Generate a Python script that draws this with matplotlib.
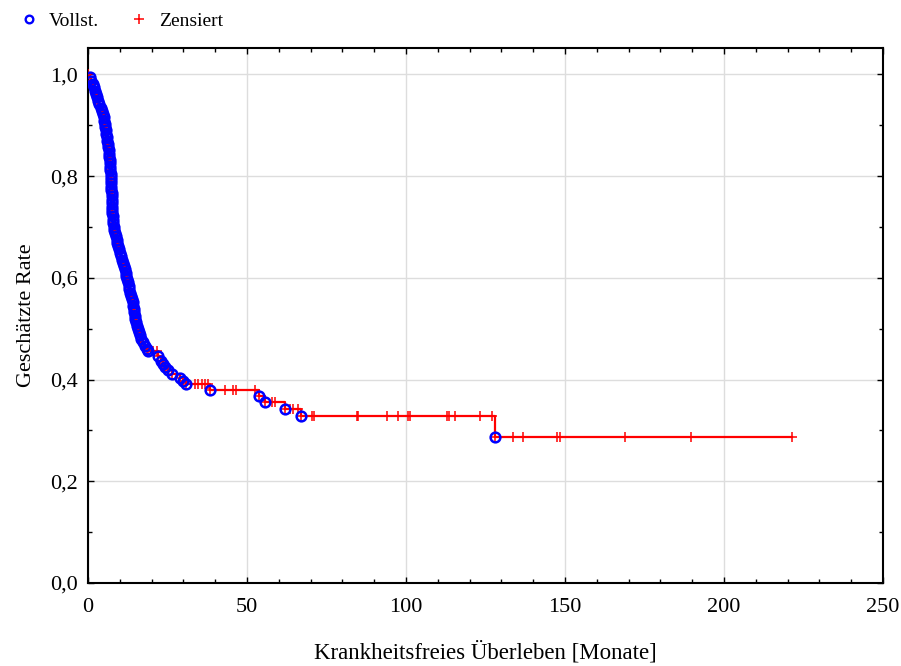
# coding=utf-8
import numpy as np
import matplotlib
matplotlib.use('Agg')
import matplotlib.pyplot as plt
from matplotlib.lines import Line2D
from matplotlib.ticker import MultipleLocator, FuncFormatter

# events (Vollst.): time [months], estimated survival after the event
event_t = [
    0.6, 1.0, 1.5, 1.9, 2.3, 2.6, 2.9, 3.3, 3.6, 4.0, 4.3, 4.6, 4.9, 5.1,
    5.3, 5.4, 5.6, 5.8, 5.9, 6.1, 6.2, 6.4, 6.5, 6.6, 6.7, 6.8, 6.9, 7.0,
    7.05, 7.1, 7.15, 7.2, 7.25, 7.3, 7.35, 7.4, 7.45, 7.5, 7.55, 7.6, 7.65,
    7.7, 7.8, 7.9, 8.0, 8.2, 8.3, 8.6, 8.8, 9.0, 9.2, 9.5, 9.7, 10.0, 10.3,
    10.6, 10.9, 11.2, 11.5, 11.8, 12.0, 12.3, 12.6, 12.8, 13.0, 13.2, 13.5,
    13.7, 14.0, 14.2, 14.4, 14.6, 14.7, 14.9, 15.1, 15.3, 15.6, 15.9, 16.3,
    16.8, 17.3, 17.9, 18.4, 19.0, 22.1, 23.1, 23.6, 24.2, 25.0, 26.3, 28.9,
    30.0, 30.8, 38.5, 53.7, 55.7, 62.0, 66.9, 128.0]
event_s = [
    0.994, 0.987, 0.981, 0.975, 0.968, 0.962, 0.955, 0.948, 0.942, 0.935,
    0.929, 0.922, 0.916, 0.909, 0.903, 0.896, 0.890, 0.883, 0.877, 0.870,
    0.864, 0.857, 0.851, 0.844, 0.838, 0.831, 0.825, 0.818, 0.812, 0.805,
    0.799, 0.792, 0.786, 0.779, 0.773, 0.766, 0.760, 0.753, 0.747, 0.740,
    0.734, 0.727, 0.721, 0.714, 0.708, 0.701, 0.695, 0.688, 0.682, 0.675,
    0.669, 0.662, 0.656, 0.649, 0.643, 0.636, 0.630, 0.623, 0.617, 0.610,
    0.604, 0.597, 0.591, 0.584, 0.578, 0.571, 0.565, 0.558, 0.552, 0.545,
    0.539, 0.532, 0.526, 0.519, 0.513, 0.506, 0.500, 0.493, 0.487, 0.480,
    0.474, 0.467, 0.461, 0.457, 0.447, 0.437, 0.431, 0.424, 0.418, 0.411,
    0.404, 0.398, 0.391, 0.379, 0.367, 0.355, 0.343, 0.328, 0.288]

# censored observations (Zensiert): time [months]
cens_t = [
    20.3, 21.6, 33.6, 34.7, 35.7, 36.8, 37.8, 43.2, 45.5, 46.4, 52.5, 57.8,
    58.8, 63.5, 64.6, 66.1, 70.3, 71.1, 84.5, 85.0, 93.9, 97.5, 100.7,
    101.2, 113.0, 113.5, 115.5, 123.4, 127.0, 133.7, 136.7, 147.4, 148.4,
    168.9, 189.6, 221.3]

event_t = np.array(event_t)
event_s = np.array(event_s)
cens_t = np.array(cens_t)
idx = np.searchsorted(event_t, cens_t, side='right') - 1
cens_s = np.where(idx >= 0, event_s[np.clip(idx, 0, None)], 1.0)

all_t = np.concatenate([[0.0], event_t, cens_t])
all_s = np.concatenate([[1.0], event_s, cens_s])
order = np.argsort(all_t, kind='stable')
all_t = all_t[order]
all_s = all_s[order]

plt.rcParams['font.family'] = ['Liberation Serif', 'DejaVu Serif']

fig = plt.figure(figsize=(9.01, 6.66), dpi=100)
ax = fig.add_axes([88 / 901, 1 - 583 / 666, 795 / 901, 535 / 666])

ax.plot(all_t, all_s, color='red', lw=1.6, drawstyle='steps-post', zorder=3)
ax.plot(all_t, all_s, ls='none', marker='+', color='red', ms=7, mew=1.1,
        zorder=4)
ax.plot(event_t, event_s, ls='none', marker='o', mfc='none', mec='blue',
        ms=7, mew=1.8, zorder=5)

ax.set_xlim(0, 250)
ax.set_ylim(0, 1.052)
ax.xaxis.set_major_locator(MultipleLocator(50))
ax.xaxis.set_minor_locator(MultipleLocator(10))
ax.yaxis.set_major_locator(MultipleLocator(0.2))
ax.yaxis.set_minor_locator(MultipleLocator(0.1))
ax.yaxis.set_major_formatter(
    FuncFormatter(lambda v, p: ('%.1f' % v).replace('.', ',')))
ax.grid(True, which='major', color='#dddddd', lw=1, zorder=0)
ax.tick_params(which='both', direction='in', top=True, right=True,
               labelsize=16, width=1)
ax.tick_params(which='major', length=4)
ax.tick_params(which='minor', length=3)
ax.tick_params(axis='x', pad=11)
ax.tick_params(axis='y', pad=7)
for sp in ax.spines.values():
    sp.set_linewidth(1.5)

ax.set_xlabel('Krankheitsfreies Überleben [Monate]', fontsize=16.5,
              va='center')
ax.xaxis.set_label_coords(0.5, -0.129)
ax.set_ylabel('Geschätzte Rate', fontsize=16, va='center')
ax.yaxis.set_label_coords(-0.077, 0.5)

handles = [
    Line2D([], [], ls='none', marker='o', mfc='none', mec='blue', ms=5.5,
           mew=1.7),
    Line2D([], [], ls='none', marker='+', color='red', ms=7, mew=1.1)]
fig.legend(handles, ['Vollst.', 'Zensiert'], loc='upper left',
           bbox_to_anchor=(0.002, 1.008), ncol=2, frameon=False, fontsize=14,
           handlelength=1.0, handletextpad=0.5, columnspacing=1.6)

fig.savefig('out.png', dpi=100)
